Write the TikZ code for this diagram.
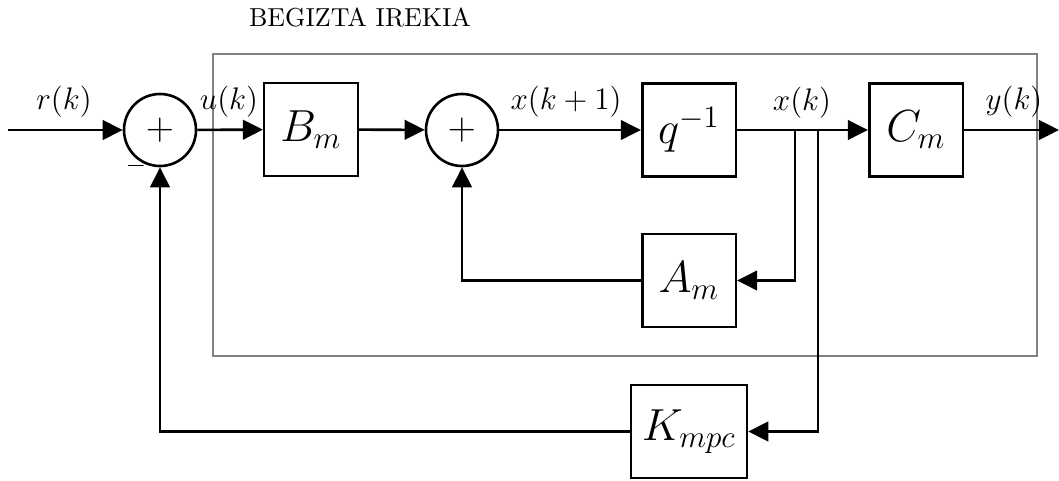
\documentclass[tikz,border=0pt]{standalone}
\usetikzlibrary{arrows.meta}
\begin{document}
\begin{tikzpicture}[x=0.3846pt,y=-0.3846pt,
  blk/.style={draw,line width=1pt,minimum width=36pt,minimum height=35.8pt,inner sep=0pt,font=\LARGE},
  sumc/.style={draw,circle,line width=1pt,minimum size=27.7pt,inner sep=0pt,font=\fontsize{15.5}{18}\selectfont},
  conn/.style={line width=1pt,-{Triangle[length=7.7pt,width=7.5pt]}},
  lbl/.style={font=\large,inner sep=0pt}]
\useasboundingbox (0,0) rectangle (1059,481);
% open loop frame
\draw[gray,line width=0.9pt] (213,54) rectangle (1037,356);
\node[inner sep=0pt] (title) at (360,17) {BEGIZTA IREKIA};
% blocks
\node[sumc] (s1) at (160,130) {$+$};
\node[blk] (B) at (311,129.5) {$B_m$};
\node[sumc] (s2) at (462,130) {$+$};
\node[blk] (Q) at (689,130) {$q^{-1}$};
\node[blk] (C) at (916,130) {$C_m$};
\node[blk] (A) at (689,280.5) {$A_m$};
\node[blk,minimum width=44.6pt] (K) at (689,431.5) {$K_{mpc}$};
\coordinate (in) at (8,130);
\coordinate (out) at (1059,130);
\coordinate (b1) at (795,130);
\coordinate (b2) at (818,130);
% connectors
\draw[conn] (in) -- (s1);
\draw[conn] (s1) -- (B);
\draw[conn] (B) -- (s2);
\draw[conn] (s2) -- (Q);
\draw[conn] (Q) -- (C);
\draw[conn] (C) -- (out);
\draw[conn] (b1) |- (A);
\draw[conn] (b2) |- (K);
\draw[conn] (A) -| (s2);
\draw[conn] (K) -| (s1);
% labels
\node[lbl] (lr) at (64,102) {$r(k)$};
\node[lbl] (lu) at (229,102) {$u(k)$};
\node[lbl] (lx1) at (566,102) {$x(k+1)$};
\node[lbl] (lxk) at (802,103) {$x(k)$};
\node[lbl] (ly) at (1014,102) {$y(k)$};
\node[inner sep=0pt] (minus) at (136,166) {$-$};
\end{tikzpicture}
\end{document}
